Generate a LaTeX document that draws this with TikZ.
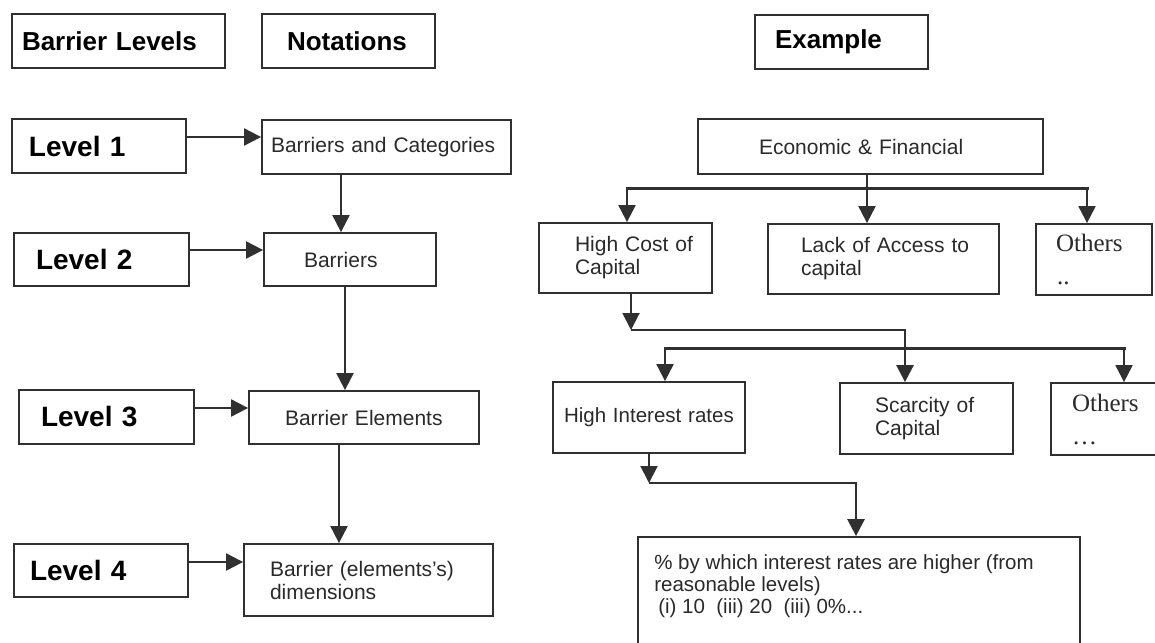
\documentclass[tikz,border=0pt]{standalone}
\usepackage{fontspec}
\setmainfont{Liberation Sans}
\newfontfamily\othersfont{Liberation Serif}
\usetikzlibrary{arrows.meta}
\definecolor{ink}{HTML}{303030}
\definecolor{txt}{HTML}{2A2A2A}
% left indent of a line inside a box
\newcommand\ind[1]{\hspace*{#1pt}}
\tikzset{
  box/.style={draw=ink, line width=1.8pt, rectangle, inner xsep=0pt, inner ysep=0pt,
              align=left, text=txt},
  hd/.style={font=\fontsize{26}{30}\selectfont\bfseries, text=black},
  lv/.style={font=\fontsize{28}{32}\selectfont\bfseries, text=black},
  nt/.style={font=\fontsize{21}{23}\selectfont},
  ntsmall/.style={font=\fontsize{20.5}{22}\selectfont},
  ot/.style={font=\othersfont\fontsize{25}{33}\selectfont},
  arr/.style={draw=ink, line width=2pt, -{Triangle[width=17pt,length=17pt]}},
  ln/.style={draw=ink, line width=2pt},
  bus/.style={draw=ink, line width=3pt, line cap=rect},
}
\begin{document}
\begin{tikzpicture}[x=1pt, y=-1pt]
  \fill[white] (0,0) rectangle (1155,642);
  \clip (0,0) rectangle (1155,642);

  % column headers
  \node[box, hd, text width=213pt, minimum height=54pt] (hL) at (118.5,41) {\ind{10}Barrier Levels};
  \node[box, hd, text width=173pt, minimum height=54pt] (hN) at (348.5,41) {\ind{25}Notations};
  \node[box, hd, text width=173pt, minimum height=54pt] (hE) at (841.5,42) {\ind{20}Example};

  % barrier levels
  \node[box, lv, text width=174pt, minimum height=54pt] (L1) at (99,146)      {\ind{17}Level 1};
  \node[box, lv, text width=175pt, minimum height=53pt] (L2) at (101.5,259.5) {\ind{22}Level 2};
  \node[box, lv, text width=175pt, minimum height=54pt] (L3) at (106.5,417)   {\ind{22}Level 3};
  \node[box, lv, text width=174pt, minimum height=53pt] (L4) at (101,570.5)   {\ind{16}Level 4};

  % notations
  \node[box, nt, text width=249pt, minimum height=54pt] (BaC) at (386.5,147) {\ind{9}Barriers and Categories};
  \node[box, nt, text width=172pt, minimum height=53pt] (Bar) at (350,259.5) {\ind{40}Barriers};
  \node[box, nt, text width=230pt, minimum height=53pt] (BE)  at (364,417.5) {\ind{36}Barrier Elements};
  \node[box, nt, text width=249pt, minimum height=72pt] (BD)  at (368.5,580)
       {\ind{26}Barrier (elements's)\\\ind{26}dimensions};

  % example tree
  \node[box, nt, text width=345pt, minimum height=55pt] (EF)   at (870.5,146.5) {\ind{61}Economic \& Financial};
  \node[box, nt, text width=173pt, minimum height=70pt] (HCC)  at (625.5,258)   {\ind{36}High Cost of\\\ind{36}Capital};
  \node[box, nt, text width=231pt, minimum height=70pt] (LAC)  at (883.5,259)   {\ind{33}Lack of Access to\\\ind{33}capital};
  \node[box, ot, text width=116pt, minimum height=71pt] (Oth1) at (1094,259.5)  {\ind{20}Others\\\ind{21}..};
  \node[box, ntsmall, text width=192pt, minimum height=71pt] (HIR) at (649,417.5) {\ind{11}High Interest rates};
  \node[box, nt, text width=173pt, minimum height=71pt] (Scar) at (926.5,418.5) {\ind{35}Scarcity of\\\ind{35}Capital};
  \node[box, ot, text width=130pt, minimum height=72pt] (Oth2) at (1116,419)    {\ind{21}Others\\\ind{21}\ldots};
  \node[box, text width=442pt, minimum height=143pt,
        label={[anchor=north west, inner sep=0pt, align=left, text=txt,
                font=\fontsize{20.5}{22}\selectfont, xshift=17pt, yshift=-18pt]north west:
               \% by which interest rates are higher (from\\
               reasonable levels)\\
               \hspace*{4pt}(i) 10\ \ (iii) 20\ \ (iii) 0\%...}] (Pct) at (859,608.5) {};

  % level -> notation arrows
  \draw[arr] ([yshift=9pt]L1.east)   -- ([yshift=10pt]BaC.west);
  \draw[arr] ([yshift=9.5pt]L2.east) -- ([yshift=9.5pt]Bar.west);
  \draw[arr] ([yshift=9pt]L3.east)   -- ([yshift=9.5pt]BE.west);
  \draw[arr] ([yshift=8.5pt]L4.east) -- ([yshift=18pt]BD.west);

  % notation chain
  \draw[arr] ([xshift=-45.5pt]BaC.south) -- ([xshift=-9pt]Bar.north);
  \draw[arr] ([xshift=-5pt]Bar.south)    -- ([xshift=-19pt]BE.north);
  \draw[arr] ([xshift=-25pt]BE.south)    -- ([xshift=-29.5pt]BD.north);

  % first branching under Economic & Financial
  \coordinate (t1) at (627,188);
  \coordinate (t2) at (867,188);
  \coordinate (t3) at (1087,188);
  \draw[bus] (t1) -- (t3);
  \draw[ln] ([xshift=-3.5pt]EF.south) -- (t2);
  \draw[arr] (t1) -- (t1 |- HCC.north);
  \draw[arr] (t2) -- (t2 |- LAC.north);
  \draw[arr] (t3) -- (t3 |- Oth1.north);

  % second branching
  \coordinate (u1) at (631,330);
  \coordinate (u2) at (905,330);
  \draw[arr] ([xshift=5.5pt]HCC.south) -- (u1);
  \draw[arr, line width=2.6pt] (u1) -- (u2) -- (u2 |- Scar.north);
  \coordinate (v1) at (665,348);
  \coordinate (v2) at (1124,348);
  \draw[bus] (v1) -- (v2);
  \draw[arr] (v1) -- (v1 |- HIR.north);
  \draw[arr] (v2) -- (v2 |- Oth2.north);

  % detail of High Interest rates
  \coordinate (w1) at (649,483);
  \coordinate (w2) at (856,483);
  \draw[arr] (HIR.south) -- (w1);
  \draw[arr, line width=2.6pt] (w1) -- (w2) -- (w2 |- Pct.north);
\end{tikzpicture}
\end{document}
